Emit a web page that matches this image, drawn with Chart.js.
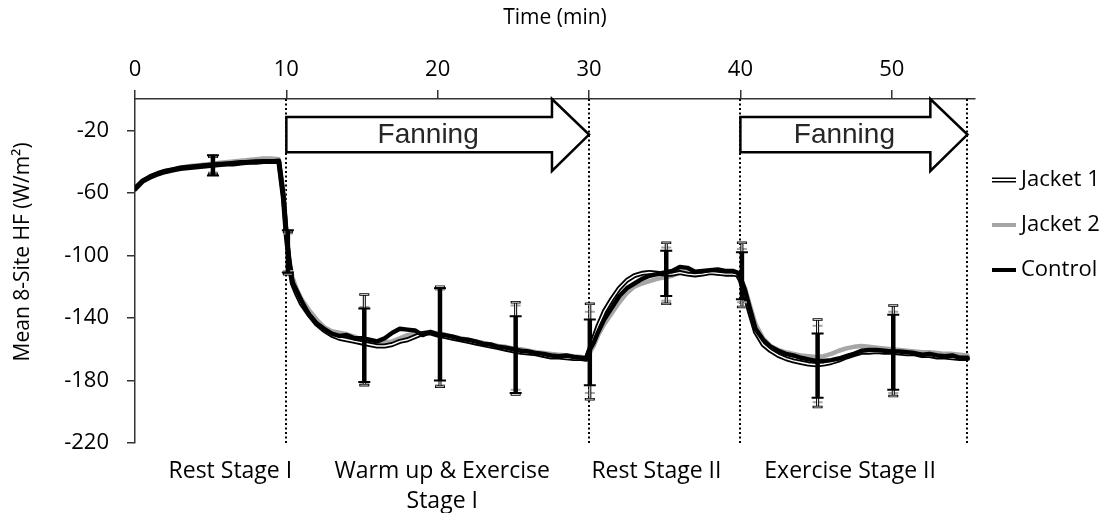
<!DOCTYPE html>
<html>
<head>
<meta charset="utf-8">
<script src="https://cdn.jsdelivr.net/npm/chart.js@4.4.1/dist/chart.umd.min.js"></script>
<style>
  html, body { margin: 0; padding: 0; background: #fff; }
  canvas { display: block; }
</style>
</head>
<body>
<canvas id="hf" width="1115" height="513"></canvas>
<script>
// Sampling times (min)
const timeMin = [
  0, 0.5, 1, 1.5, 2, 2.5, 3, 3.5, 4, 4.5,
  5, 5.5, 6, 6.5, 7, 7.5, 8, 8.5, 9, 9.5,
  9.8, 10, 10.2, 10.4, 10.7, 11, 11.5, 12, 12.5, 13,
  13.5, 14, 14.5, 15, 15.5, 16, 16.5, 17, 17.5, 18,
  18.5, 19, 19.5, 20, 20.5, 21, 21.5, 22, 22.5, 23,
  23.5, 24, 24.5, 25, 25.5, 26, 26.5, 27, 27.5, 28,
  28.5, 29, 29.5, 29.8, 30, 30.3, 30.6, 31, 31.5, 32,
  32.5, 33, 33.5, 34, 34.5, 35, 35.5, 36, 36.5, 37,
  37.5, 38, 38.5, 39, 39.5, 39.8, 40, 40.3, 40.6, 41,
  41.5, 42, 42.5, 43, 43.5, 44, 44.5, 45, 45.5, 46,
  46.5, 47, 47.5, 48, 48.5, 49, 49.5, 50, 50.5, 51,
  51.5, 52, 52.5, 53, 53.5, 54, 54.5, 55
];

// Mean 8-site heat flux (W/m²)
const jacket1HF = [
  -57.5, -52.5, -50, -48, -46.5, -45.5, -44.5, -44, -43.5, -43,
  -42.5, -42, -41.5, -41.5, -41, -40.5, -40.5, -40, -40, -40,
  -63, -88, -106, -118, -125, -131, -138, -144, -148, -151,
  -153, -154, -155, -156, -157, -158, -158, -157, -155, -154,
  -152, -150, -149.5, -151, -152, -153, -154, -155, -156, -157,
  -158, -159, -160, -161, -162, -162.5, -163, -164, -165, -165,
  -165.5, -166, -166, -166.5, -161, -153, -145, -136, -128, -121,
  -116, -113, -111.5, -111, -111.5, -112, -112, -111, -112, -112.5,
  -112, -111, -111.5, -112, -112, -112.5, -116, -125, -136, -149,
  -157, -161, -164, -166, -167.5, -168.5, -169.5, -170, -169.5, -168.5,
  -167, -165, -163.5, -162, -162, -161.5, -162, -162, -162.5, -163,
  -163, -164, -164, -165, -165, -165.5, -166, -166
];
const jacket2HF = [
  -58, -53, -50, -48, -46, -45, -44, -43, -42.5, -42,
  -41.5, -41, -40.5, -40, -39.5, -39, -38.5, -38, -38, -38.5,
  -58, -84, -103, -114, -122, -128, -135, -141, -146, -148.5,
  -149.5, -150.5, -152, -154, -155, -155.5, -155.5, -155, -153, -151,
  -150, -150, -149, -150, -151, -152, -153, -154, -155, -156,
  -157, -158, -158.5, -159.5, -160, -161, -162, -162.5, -163, -163.5,
  -164, -164.5, -165, -165.5, -163, -158, -151, -144, -137, -130,
  -124, -120, -118, -116.5, -115, -114, -113, -111, -111, -111.5,
  -111, -110.5, -111.5, -112, -111.5, -112, -115, -121, -131, -144,
  -153, -158, -160.5, -162, -163, -164, -164.5, -165, -164.5, -163,
  -161, -159.5, -158.5, -158, -158.5, -159, -159.5, -160, -160.5, -161,
  -161.5, -162, -162, -162.5, -163, -163, -163.5, -164
];
const controlHF = [
  -57, -52.5, -49.5, -47.5, -46, -45, -44, -43.5, -43, -42.5,
  -42, -41.5, -41.5, -41, -40.5, -40.5, -40, -40, -40, -39.5,
  -62, -86, -104, -117, -123, -129, -138, -143.5, -147, -150,
  -151.5, -151, -153, -153, -154, -155, -153, -149.5, -147, -147.5,
  -148, -151, -149, -150.5, -151, -152, -153.5, -154, -155, -156.5,
  -157, -158.5, -159, -160, -161, -161.5, -162.5, -163, -164, -164.5,
  -164, -165, -165.5, -166, -161, -156, -149, -141, -133.5, -126,
  -121, -118, -115, -113, -112, -111, -110, -107.5, -108, -110.5,
  -110, -109.5, -109, -110, -110, -111, -114, -122, -133, -147,
  -154, -158.5, -161, -163, -164, -165.5, -166.5, -167.5, -167.5, -167,
  -166, -164.5, -163, -161, -160.5, -160.5, -161, -161.5, -161.5, -162,
  -162.5, -163.5, -163, -164, -164.5, -164, -165.5, -165.5
];

// Error bar times and their lower / upper limits (W/m²)
const errTimes = [5.15, 10.1, 15.15, 20.15, 25.15, 30.05, 35.1, 40.1, 45.1, 50.1];
const jacket1ErrLow  = [-48, -112, -183, -184, -189, -192, -131, -133, -197, -190];
const jacket1ErrHigh = [-37, -85, -125, -120, -130, -131, -92, -92, -141, -132];
const jacket2ErrLow  = [-47, -110, -182, -183, -186, -188, -129, -130, -194, -188];
const jacket2ErrHigh = [-36, -86, -133, -122, -132, -136, -95, -96, -145, -136];
const controlErrLow  = [-49, -111, -181, -180, -188, -183, -126, -128, -191, -186];
const controlErrHigh = [-36, -84, -134, -121, -139, -141, -97, -98, -150, -138];

// Axis ticks
const timeTicks = [0, 10, 20, 30, 40, 50];
const hfTicks = [-220, -180, -140, -100, -60, -20];

// Protocol stages
const stageCenters = [6.3, 20.3, 34.45, 47.25];
const stageLabels = ['Rest Stage I', ['Warm up & Exercise', 'Stage I'], 'Rest Stage II', 'Exercise Stage II'];
const phaseBounds = [10, 30, 40, 55];
const fanningSpans = [[10, 30], [40, 55]];
const fanningLabel = 'Fanning';

const seriesNames = ['Jacket 1', 'Jacket 2', 'Control'];

// ---- styling ----
const FONT = "'Open Sans', sans-serif";
Chart.defaults.font.family = FONT;
Chart.defaults.color = '#000';

const AXIS_COLOR = '#333';
const GRAY = '#a6a6a6';
const LEGEND_FONT = 22;
const LEGEND_PAD = 23;
const LEGEND_BOX = 12;
const LEGEND_EXTRA = 10;   // extra width Chart.js adds to a vertical legend
const PLOT_RIGHT = 975;

// arrow shape in axis units: head length (min) and vertical extents (W/m²)
const ARROW = { head: 2.45, bodyTop: -11.5, bodyBottom: -34, headTop: 0, headBottom: -46 };

const pts = vals => timeMin.map((t, i) => ({ x: t, y: vals[i] }));

// legend swatches
function swatch(kind) {
  const c = document.createElement('canvas');
  c.width = 24; c.height = 6;
  const g = c.getContext('2d');
  if (kind === 'double') {
    g.fillStyle = '#000'; g.fillRect(0, 0.5, 24, 5);
    g.fillStyle = '#fff'; g.fillRect(0, 2, 24, 2);
  } else {
    g.fillStyle = kind; g.fillRect(0, 1, 24, 4);
  }
  return c;
}
const swatches = [swatch('double'), swatch(GRAY), swatch('#000')];

// reserve room on the right so the legend sits beside the plot
const mctx = document.createElement('canvas').getContext('2d');
mctx.font = `${LEGEND_FONT}px ${FONT}`;
const legendTextW = Math.max(...seriesNames.map(s => mctx.measureText(s).width));
const legendW = LEGEND_PAD + LEGEND_BOX + LEGEND_FONT / 2 + legendTextW + LEGEND_EXTRA;
const rightPad = Math.max(0, 1115 - PLOT_RIGHT - legendW);

// dotted stage boundaries and "Fanning" arrows
const phaseMarks = {
  id: 'phaseMarks',
  beforeDatasetsDraw(chart) {
    const { ctx, chartArea: a, scales: { x, y } } = chart;
    ctx.save();
    fanningSpans.forEach(([s, e]) => {
      const x0 = x.getPixelForValue(s);
      const x1 = x.getPixelForValue(e);
      const xh = x.getPixelForValue(e - ARROW.head);
      const yt = y.getPixelForValue(ARROW.bodyTop);
      const yb = y.getPixelForValue(ARROW.bodyBottom);
      const ht = y.getPixelForValue(ARROW.headTop);
      const hb = y.getPixelForValue(ARROW.headBottom);
      const ym = (yt + yb) / 2;
      ctx.beginPath();
      ctx.moveTo(x0, yt); ctx.lineTo(xh, yt); ctx.lineTo(xh, ht);
      ctx.lineTo(x1, ym); ctx.lineTo(xh, hb); ctx.lineTo(xh, yb);
      ctx.lineTo(x0, yb); ctx.closePath();
      ctx.fillStyle = '#fff'; ctx.fill();
      ctx.lineWidth = 2.5; ctx.strokeStyle = '#000'; ctx.lineJoin = 'miter';
      ctx.stroke();
      ctx.fillStyle = '#262626';
      ctx.font = "28px 'Liberation Sans', Arial, sans-serif";
      ctx.textAlign = 'center'; ctx.textBaseline = 'middle';
      ctx.fillText(fanningLabel, (x0 + xh) / 2 + 9, ym + 1);
    });
    ctx.strokeStyle = '#000';
    ctx.lineWidth = 2;
    ctx.setLineDash([2, 2.5]);
    phaseBounds.forEach(t => {
      const px = Math.round(x.getPixelForValue(t));
      ctx.beginPath(); ctx.moveTo(px, a.top); ctx.lineTo(px, a.bottom); ctx.stroke();
    });
    ctx.restore();
  }
};

// error bars for the three series
const errorSets = [
  { low: jacket2ErrLow, high: jacket2ErrHigh, kind: 'gray' },
  { low: jacket1ErrLow, high: jacket1ErrHigh, kind: 'double' },
  { low: controlErrLow, high: controlErrHigh, kind: 'bold' }
];
const errorBars = {
  id: 'errorBars',
  afterDatasetsDraw(chart) {
    const { ctx, scales: { x, y } } = chart;
    ctx.save();
    ctx.lineCap = 'butt';
    errorSets.forEach(set => {
      errTimes.forEach((t, i) => {
        const px = x.getPixelForValue(t);
        const lo = y.getPixelForValue(set.low[i]);
        const hi = y.getPixelForValue(set.high[i]);
        const stem = (w, c) => { ctx.lineWidth = w; ctx.strokeStyle = c; ctx.beginPath(); ctx.moveTo(px, lo); ctx.lineTo(px, hi); ctx.stroke(); };
        const caps = (half, w, c) => {
          ctx.lineWidth = w; ctx.strokeStyle = c; ctx.beginPath();
          ctx.moveTo(px - half, lo); ctx.lineTo(px + half, lo);
          ctx.moveTo(px - half, hi); ctx.lineTo(px + half, hi);
          ctx.stroke();
        };
        if (set.kind === 'gray') { stem(2, GRAY); caps(5, 2, GRAY); }
        else if (set.kind === 'double') { stem(3, '#000'); stem(1, '#fff'); caps(5, 2.5, '#000'); caps(4, 0.8, '#fff'); }
        else { stem(4.5, '#000'); caps(6, 2, '#000'); }
      });
    });
    ctx.restore();
  }
};

new Chart(document.getElementById('hf'), {
  type: 'line',
  data: {
    datasets: [
      { label: 'Control', data: pts(controlHF), borderColor: '#000', borderWidth: 4.5, order: 0, xAxisID: 'x', yAxisID: 'y' },
      { label: 'Jacket 1', data: pts(jacket1HF), borderColor: '#fff', borderWidth: 1.4, order: 1, xAxisID: 'x', yAxisID: 'y' },
      { label: 'Jacket 1', data: pts(jacket1HF), borderColor: '#000', borderWidth: 5, order: 2, xAxisID: 'x', yAxisID: 'y' },
      { label: 'Jacket 2', data: pts(jacket2HF), borderColor: GRAY, borderWidth: 4.5, order: 3, xAxisID: 'x', yAxisID: 'y' }
    ]
  },
  options: {
    responsive: false,
    animation: false,
    devicePixelRatio: 1,
    layout: { padding: { left: 0, right: rightPad, top: 0, bottom: 0 } },
    elements: {
      point: { radius: 0, hoverRadius: 0 },
      line: { tension: 0, borderJoinStyle: 'round', borderCapStyle: 'round', fill: false }
    },
    scales: {
      x: {
        type: 'linear', position: 'top', min: 0, max: 55.5,
        afterBuildTicks: s => { s.ticks = timeTicks.map(v => ({ value: v })); },
        afterFit: s => { s.height = 99; },
        grid: { display: true, drawOnChartArea: false, drawTicks: true, tickLength: 9, color: AXIS_COLOR, lineWidth: 1.5 },
        border: { display: true, color: AXIS_COLOR, width: 1.5 },
        ticks: { padding: 7, color: '#000', font: { size: 22 }, autoSkip: false, maxRotation: 0, minRotation: 0 },
        title: { display: true, text: 'Time (min)', color: '#000', font: { size: 21 }, padding: { top: 5, bottom: 0 } }
      },
      stage: {
        type: 'linear', position: 'bottom', min: 0, max: 55.5,
        afterBuildTicks: s => { s.ticks = stageCenters.map(v => ({ value: v })); },
        afterFit: s => { s.height = 70; },
        grid: { display: false },
        border: { display: false },
        ticks: {
          padding: 6, color: '#000', font: { size: 23, lineHeight: 1.3 },
          autoSkip: false, maxRotation: 0, minRotation: 0,
          callback: (v, i) => stageLabels[i]
        }
      },
      y: {
        type: 'linear', position: 'left', min: -220, max: 0,
        afterBuildTicks: s => { s.ticks = hfTicks.map(v => ({ value: v })); },
        afterFit: s => { s.width = 135; },
        grid: { display: true, drawOnChartArea: false, drawTicks: true, tickLength: 8, color: AXIS_COLOR, lineWidth: 1.5 },
        border: { display: true, color: AXIS_COLOR, width: 1.5 },
        ticks: { padding: 18, color: '#000', font: { size: 22 } },
        title: { display: true, text: '       Mean 8-Site HF (W/m²)', color: '#000', font: { size: 21 }, padding: { top: 10, bottom: 0 } }
      }
    },
    plugins: {
      tooltip: { enabled: false },
      legend: {
        position: 'right',
        align: 'start',
        fullSize: false,
        title: { display: true, text: '', font: { size: 10 }, padding: { top: 35, bottom: 0 } },
        labels: {
          usePointStyle: true,
          pointStyleWidth: LEGEND_BOX,
          padding: LEGEND_PAD,
          color: '#000',
          font: { size: LEGEND_FONT },
          generateLabels: () => seriesNames.map((name, i) => ({
            text: name,
            pointStyle: swatches[i],
            fillStyle: 'rgba(0,0,0,0)',
            strokeStyle: 'rgba(0,0,0,0)',
            lineWidth: 0,
            hidden: false,
            fontColor: '#000',
            datasetIndex: i
          }))
        }
      }
    }
  },
  plugins: [phaseMarks, errorBars]
});
</script>
</body>
</html>
